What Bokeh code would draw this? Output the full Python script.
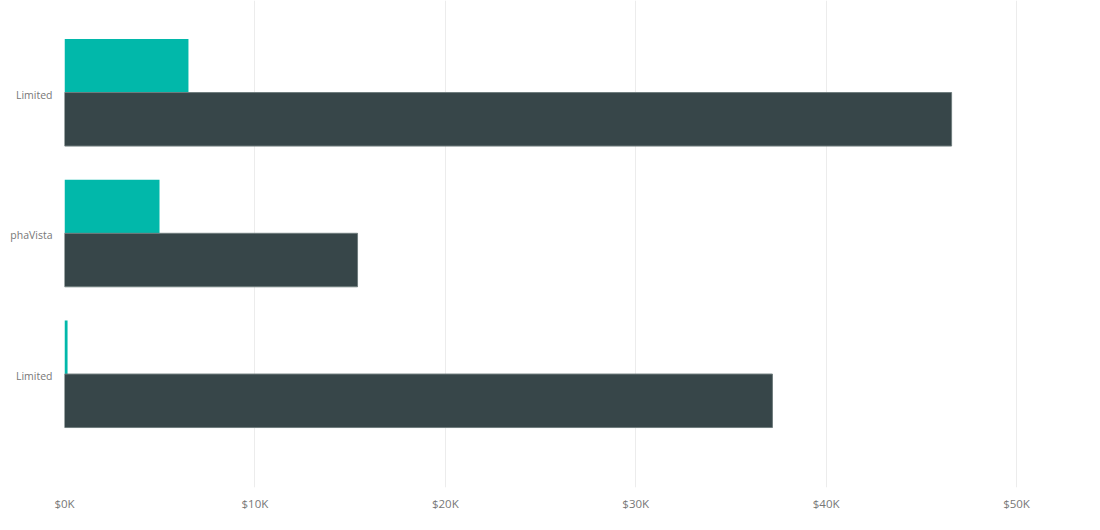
from bokeh.plotting import figure
from bokeh.models import Range1d, ColumnDataSource, FixedTicker
from bokeh.embed import file_html
from bokeh.resources import INLINE

# Data (values in $K)
categories = ["Limited", "phaVista", "Limited"]
series_a = [6.51, 4.99, 0.16]      # teal series
series_b = [46.59, 15.39, 37.18]   # dark series
tick_values = [0, 10, 20, 30, 40, 50]
tick_labels = ["$0K", "$10K", "$20K", "$30K", "$40K", "$50K"]

TEAL = "#01B8AA"
DARK = "#374649"
TEXT = "#777777"

pos = list(range(len(categories)))
bar_h = 0.38

src_a = ColumnDataSource(dict(y=[p - bar_h / 2 for p in pos], right=series_a))
src_b = ColumnDataSource(dict(y=[p + bar_h / 2 for p in pos], right=series_b))

p = figure(width=1100, height=530, output_backend="svg", toolbar_location=None,
           x_range=Range1d(0, 54.41), y_range=Range1d(2.806, -0.654),
           min_border_left=64, min_border_right=0, min_border_top=0,
           min_border_bottom=43)
p.outline_line_color = None
p.background_fill_color = "white"
p.border_fill_color = "white"

p.hbar(y="y", left=0, right="right", height=bar_h, source=src_a,
       fill_color=TEAL, line_color=None)
p.hbar(y="y", left=0, right="right", height=bar_h, source=src_b,
       fill_color=DARK, line_color="#6f7c7d", line_width=1)

# x axis: labels only
p.xaxis.ticker = FixedTicker(ticks=tick_values)
p.xaxis.major_label_overrides = {v: s for v, s in zip(tick_values, tick_labels)}
p.xaxis.axis_line_color = None
p.xaxis.major_tick_line_color = None
p.xaxis.minor_tick_line_color = None
p.xaxis.major_label_text_font = "Open Sans"
p.xaxis.major_label_text_font_size = "11.5px"
p.xaxis.major_label_text_color = TEXT
p.xaxis.major_label_standoff = 2

# y axis: category names only, sitting on the boundary between each pair of bars
label_pos = [i + 0.015 for i in pos]
p.yaxis.ticker = FixedTicker(ticks=label_pos)
p.yaxis.major_label_overrides = {t: c for t, c in zip(label_pos, categories)}
p.yaxis.axis_line_color = None
p.yaxis.major_tick_line_color = None
p.yaxis.minor_tick_line_color = None
p.yaxis.major_label_text_font = "Open Sans"
p.yaxis.major_label_text_font_size = "10.5px"
p.yaxis.major_label_text_color = TEXT
p.yaxis.major_label_standoff = 6

p.ygrid.grid_line_color = None
p.xgrid.ticker = FixedTicker(ticks=tick_values)
p.xgrid.grid_line_color = "#ececec"
p.xgrid.grid_line_width = 1

open("out.html", "w").write(file_html(p, INLINE))
